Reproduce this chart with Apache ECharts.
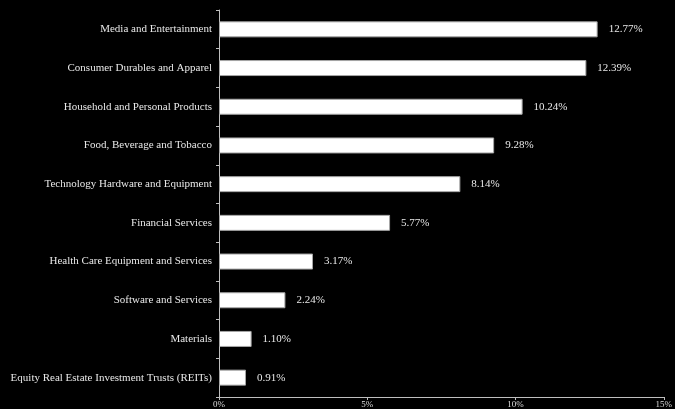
<!DOCTYPE html>
<html><head><meta charset="utf-8">
<script src="https://cdn.jsdelivr.net/npm/echarts@6/dist/echarts.min.js"></script>
<style>html,body{margin:0;padding:0;background:#000;}#c{width:675px;height:409px;}</style>
</head><body><div id="c"></div>
<script>
const categories = [
  "Equity Real Estate Investment Trusts (REITs)",
  "Materials",
  "Software and Services",
  "Health Care Equipment and Services",
  "Financial Services",
  "Technology Hardware and Equipment",
  "Food, Beverage and Tobacco",
  "Household and Personal Products",
  "Consumer Durables and Apparel",
  "Media and Entertainment"
];
const values = [0.91, 1.10, 2.24, 3.17, 5.77, 8.14, 9.28, 10.24, 12.39, 12.77];
const xTicks = [0, 5, 10, 15];

const chart = echarts.init(document.getElementById('c'));
const font = "'Liberation Serif', 'DejaVu Serif', serif";
chart.setOption({
  backgroundColor: '#000',
  animation: false,
  grid: { left: 219, right: 8, top: 10, bottom: 11, containLabel: false },
  xAxis: {
    type: 'value', min: 0, max: 15, interval: 5,
    axisLine: { show: true, lineStyle: { color: '#bfbfbf', width: 1 } },
    axisTick: { show: true, length: 3, lineStyle: { color: '#bfbfbf' } },
    splitLine: { show: false },
    axisLabel: { color: '#ddd', fontFamily: font, fontSize: 9, margin: 3,
      formatter: v => xTicks.includes(v) ? v + '%' : '' }
  },
  yAxis: {
    type: 'category', data: categories,
    axisLine: { show: true, lineStyle: { color: '#bfbfbf', width: 1 } },
    axisTick: { show: true, length: 3, lineStyle: { color: '#bfbfbf' } },
    axisLabel: { color: '#e8e8e8', fontFamily: font, fontSize: 11, margin: 7 }
  },
  series: [{
    type: 'bar', data: values, barWidth: 16,
    itemStyle: { color: '#ffffff', borderColor: '#a6a6a6', borderWidth: 1 },
    label: { show: true, position: 'right', distance: 11, color: '#e8e8e8',
      fontFamily: font, fontSize: 11, formatter: p => p.value.toFixed(2) + '%' }
  }]
});
</script></body></html>
